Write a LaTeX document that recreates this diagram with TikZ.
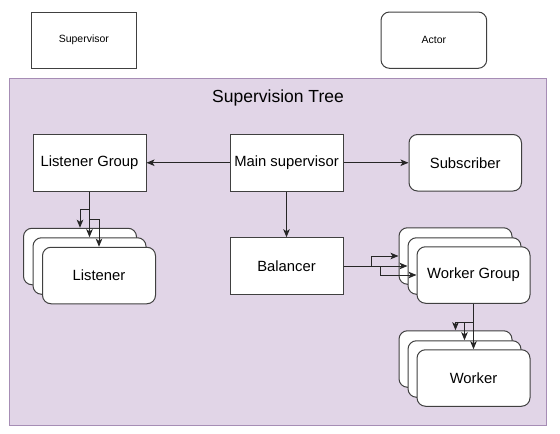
\documentclass[tikz,border=0pt]{standalone}
\usepackage{fontspec}
\setmainfont{Liberation Sans}
\usetikzlibrary{arrows.meta}
\definecolor{treefill}{HTML}{E1D5E7}
\definecolor{treeline}{HTML}{A68DB5}
\definecolor{boxline}{HTML}{404040}
\tikzset{
  sq/.style={draw=boxline, line width=1pt, fill=white, inner sep=0pt,
    minimum width=113pt, minimum height=56.5pt, font=\fontsize{14.8}{16}\selectfont},
  rnd/.style={sq, rounded corners=8.5pt},
  small/.style={font=\fontsize{10.5}{12}\selectfont},
  conn/.style={draw=black!85, line width=1pt, -{Stealth[length=8pt,width=6.5pt,inset=2pt]}},
}
\begin{document}
\begin{tikzpicture}[x=1pt,y=-1pt]
\useasboundingbox (0,0) rectangle (560,434);
% legend
\node[sq, small, minimum width=105.7pt, minimum height=56.3pt] (sup) at (83.85,40.15) {Supervisor};
\node[rnd, small, minimum width=105.7pt, minimum height=56.3pt] (act) at (433.85,40.15) {Actor};
% container
\node[draw=treeline, fill=treefill, line width=1pt, inner sep=0pt,
  minimum width=537.4pt, minimum height=346.7pt] (tree) at (278,251.65) {};
\node[font=\fontsize{17.5}{20}\selectfont, anchor=center] (title) at (278,97.7) {Supervision Tree};
% main boxes
\node[sq] (lg) at (89.5,162.75) {Listener Group};
\node[sq] (ms) at (286.5,162.75) {Main supervisor};
\node[rnd, minimum width=112.5pt] (sub) at (465.25,162.75) {Subscriber};
\node[sq] (bal) at (286.5,266) {Balancer};
% listener stack
\node[rnd] (lb) at (80,256.5) {};
\node[rnd] (lm) at (89.5,266) {};
\node[rnd] (lf) at (99,275.5) {Listener};
% worker group stack
\node[rnd] (gb) at (455.5,256) {};
\node[rnd] (gm) at (464.5,266) {};
\node[rnd] (gf) at (473.5,275) {Worker Group};
% worker stack
\node[rnd] (wb) at (455.5,359) {};
\node[rnd] (wm) at (464.5,369) {};
\node[rnd] (wf) at (473.5,378) {Worker};
% connectors
\draw[conn] (ms.west) -- (lg.east);
\draw[conn] (ms.east) -- (sub.west);
\draw[conn] (ms.south) -- (bal.north);
\draw[conn] (lg.south) -- ++(0,18) -| (lb.north);
\draw[conn] (lg.south) -- (lm.north);
\draw[conn] (lg.south) -- ++(0,28) -| (lf.north);
\draw[conn] (bal.east) -- ++(28,0) |- (gb.west);
\draw[conn] (bal.east) -- (gm.west);
\draw[conn] (bal.east) -- ++(37,0) |- (gf.west);
\draw[conn] (gf.south) -- ++(0,18.7) -| (wb.north);
\draw[conn] (gf.south) -- ++(0,18.7) -| (wm.north);
\draw[conn] (gf.south) -- (wf.north);
\end{tikzpicture}
\end{document}
